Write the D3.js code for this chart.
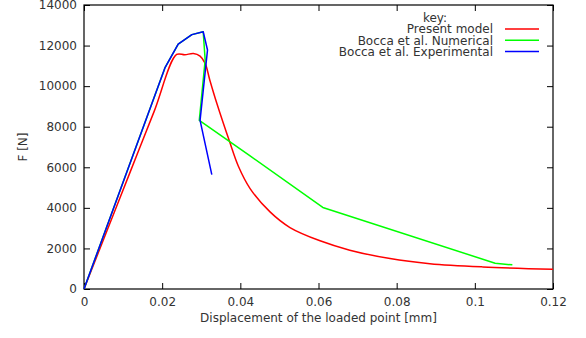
<!DOCTYPE html>
<html>
<head>
<meta charset="utf-8">
<script src="https://cdn.jsdelivr.net/npm/d3@7"></script>
<style>
  body { margin: 0; background: #fff; }
  text { font-family: "DejaVu Sans", sans-serif; fill: #333; }
</style>
</head>
<body>
<svg id="chart" width="586" height="338"></svg>
<script>
// curves: [displacement mm, force N]
var presentModel = [
  [0, 0], [0.0060, 2930], [0.0120, 5860], [0.0180, 8780], [0.0237, 11560],
  [0.0258, 11545], [0.0280, 11610], [0.0297, 11480],
  [0.0310, 11120], [0.0322, 10290], [0.0340, 9140], [0.0372, 7290], [0.0395, 6050],
  [0.0425, 4950], [0.0476, 3800], [0.0527, 3030], [0.0604, 2375], [0.0680, 1915],
  [0.0783, 1500], [0.0885, 1250], [0.1020, 1090], [0.1200, 975]
];
var boccaNumerical = [
  [0, 0], [0.0207, 10900], [0.0241, 12070], [0.0276, 12540], [0.0305, 12680],
  [0.0310, 11290], [0.0295, 8310], [0.0425, 6560], [0.0611, 4020],
  [0.1052, 1270], [0.1096, 1190]
];
var boccaExperimental = [
  [0, 0], [0.0207, 10900], [0.0241, 12070], [0.0276, 12540], [0.0305, 12680],
  [0.0316, 11780], [0.0297, 8310], [0.0327, 5640]
];
var xTicks = [0, 0.02, 0.04, 0.06, 0.08, 0.1, 0.12];
var yTicks = [0, 2000, 4000, 6000, 8000, 10000, 12000, 14000];
var seriesNames = ["Present model", "Bocca et al. Numerical", "Bocca et al. Experimental"];
var seriesColors = ["#ff0000", "#00ff00", "#0000ff"];

var margin = { top: 5, right: 33, bottom: 49, left: 84 },
    width = 586 - margin.left - margin.right,
    height = 338 - margin.top - margin.bottom;

var svg = d3.select("#chart");
var g = svg.append("g").attr("transform", "translate(" + margin.left + "," + margin.top + ")");

var x = d3.scaleLinear().domain([0, 0.12]).range([0, width]);
var y = d3.scaleLinear().domain([0, 14000]).range([height, 0]);

var fmt = function (d) { return String(+d.toFixed(2)); };

// axes with inward ticks, mirrored on top and right
var xAxis = g.append("g").attr("transform", "translate(0," + height + ")")
  .call(d3.axisBottom(x).tickValues(xTicks).tickFormat(fmt).tickSize(-6).tickPadding(8));
var xTop = g.append("g")
  .call(d3.axisTop(x).tickValues(xTicks).tickFormat("").tickSize(-6));
var yAxis = g.append("g")
  .call(d3.axisLeft(y).tickValues(yTicks).tickFormat(d3.format("d")).tickSize(-6).tickPadding(7));
var yRight = g.append("g").attr("transform", "translate(" + width + ",0)")
  .call(d3.axisRight(y).tickValues(yTicks).tickFormat("").tickSize(-6));

[xAxis, xTop, yAxis, yRight].forEach(function (a) {
  a.select(".domain").remove();
  a.selectAll("line").attr("stroke", "#000");
  a.selectAll("text").style("font-size", "12px").attr("fill", "#333")
    .style("font-family", "DejaVu Sans, sans-serif");
});

g.append("rect").attr("width", width).attr("height", height)
  .attr("fill", "none").attr("stroke", "#000").attr("stroke-width", 1.2);

var smooth = d3.line().curve(d3.curveCatmullRom.alpha(0.5))
  .x(function (d) { return x(d[0]); }).y(function (d) { return y(d[1]); });
var line = d3.line().x(function (d) { return x(d[0]); }).y(function (d) { return y(d[1]); });

[presentModel, boccaNumerical, boccaExperimental].forEach(function (s, i) {
  g.append("path").datum(s).attr("d", i === 0 ? smooth : line)
    .attr("fill", "none").attr("stroke", seriesColors[i]).attr("stroke-width", 1.5)
    .attr("stroke-linejoin", "round");
});

// key
var key = svg.append("g");
key.append("text").attr("x", 435).attr("y", 22).attr("text-anchor", "middle")
  .style("font-size", "12px").text("key:");
seriesNames.forEach(function (n, i) {
  var yy = 29 + i * 11.3;
  key.append("text").attr("x", 493).attr("y", yy).attr("dy", "0.35em")
    .attr("text-anchor", "end").style("font-size", "12px").text(n);
  key.append("line").attr("x1", 505).attr("x2", 539).attr("y1", yy).attr("y2", yy)
    .attr("stroke", seriesColors[i]).attr("stroke-width", 1.5);
});

// axis labels
svg.append("text").attr("x", margin.left + width / 2).attr("y", 322)
  .attr("text-anchor", "middle").style("font-size", "12px")
  .text("Displacement of the loaded point [mm]");
svg.append("text").attr("transform", "translate(27," + (margin.top + height / 2) + ") rotate(-90)")
  .attr("text-anchor", "middle").style("font-size", "12px").text("F [N]");
</script>
</body>
</html>
